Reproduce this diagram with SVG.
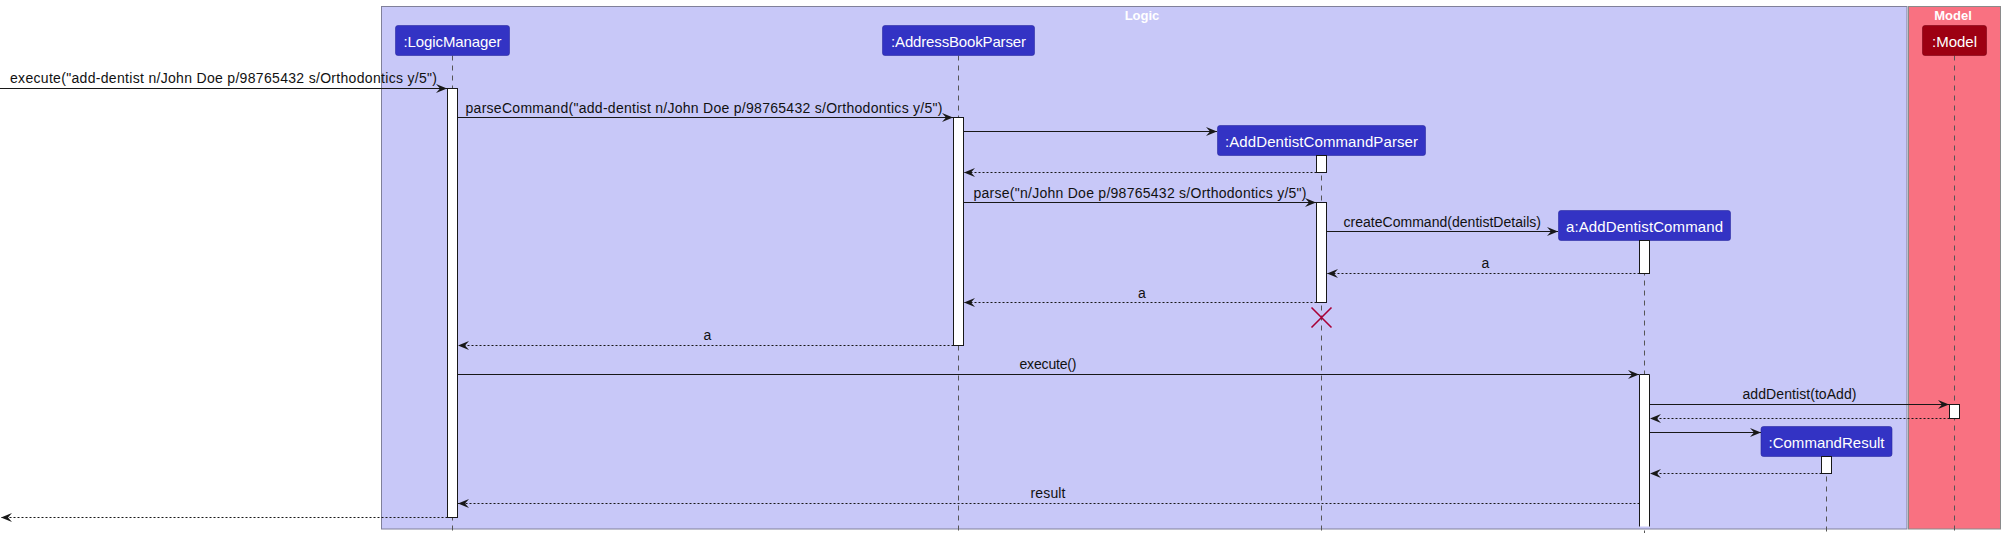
<svg xmlns="http://www.w3.org/2000/svg" width="2005" height="541" viewBox="0 0 2005 541">
<style>
.frame-logic{fill:#C8C8F8;stroke:#80809A;stroke-width:1}
.frame-model{fill:#F97181;stroke:#8A8A8A;stroke-width:1}
.ftitle{font-family:"Liberation Sans",Arial,sans-serif;font-size:13px;font-weight:bold;fill:#FFFFFF;text-anchor:middle}
.pb{fill:#3333C4;stroke:#2A2AA0;stroke-width:0.6}
.pm{fill:#9D0012;stroke:#7A0010;stroke-width:0.6}
.pt{font-family:"Liberation Sans",Arial,sans-serif;font-size:15px;fill:#FFFFFF;text-anchor:middle}
.life{stroke:#555555;stroke-width:1;stroke-dasharray:5,5;fill:none}
.act{fill:#FFFFFF;stroke:#181818;stroke-width:1}
.msg{stroke:#181818;stroke-width:1;fill:none;marker-end:url(#ah)}
.ret{stroke:#181818;stroke-width:1;stroke-dasharray:2,2;fill:none;marker-end:url(#ah)}
.lbl{font-family:"Liberation Sans",Arial,sans-serif;font-size:14px;fill:#111111}
.mid{text-anchor:middle}
.x{stroke:#A80036;stroke-width:1.6;fill:none}
</style>
<defs>
<marker id="ah" markerUnits="userSpaceOnUse" markerWidth="12" markerHeight="10" refX="11" refY="4.5" orient="auto" viewBox="0 0 12 10">
<path d="M0,0 L11,4.5 L0,9 L4,4.5 Z" fill="#181818"/>
</marker>
</defs>
<rect width="2005" height="541" fill="#FFFFFF"/>

<g id="box-logic">
<rect class="frame-logic" x="381.5" y="6.5" width="1525.5" height="522.5"/>
<text class="ftitle" x="1142" y="19.5">Logic</text>
</g>
<g id="box-model">
<rect class="frame-model" x="1908.5" y="6.5" width="92" height="522.5"/>
<text class="ftitle" x="1953" y="19.5">Model</text>
</g>

<g id="lifelines">
<line class="life" x1="452.5" y1="55.5" x2="452.5" y2="533"/>
<line class="life" x1="958.5" y1="55.5" x2="958.5" y2="533"/>
<line class="life" x1="1321.5" y1="155.5" x2="1321.5" y2="533"/>
<line class="life" x1="1644.5" y1="240.5" x2="1644.5" y2="533"/>
<line class="life" x1="1826.5" y1="456.5" x2="1826.5" y2="533"/>
<line class="life" x1="1954.5" y1="55.5" x2="1954.5" y2="533"/>
</g>

<g id="LogicManager">
<rect class="pb" x="395.5" y="25.5" width="114" height="30" rx="2.5"/>
<text class="pt" x="452.5" y="46.5" textLength="98">:LogicManager</text>
<rect class="act" x="447.5" y="88.5" width="10" height="429"/>
</g>
<g id="AddressBookParser">
<rect class="pb" x="882.5" y="25.5" width="152" height="30" rx="2.5"/>
<text class="pt" x="958.5" y="46.5" textLength="135">:AddressBookParser</text>
<rect class="act" x="953.5" y="117.5" width="10" height="228"/>
</g>
<g id="AddDentistCommandParser">
<rect class="pb" x="1217.5" y="125.5" width="208" height="30" rx="2.5"/>
<text class="pt" x="1321.5" y="146.5" textLength="193">:AddDentistCommandParser</text>
<rect class="act" x="1316.5" y="155.5" width="10" height="17"/>
<rect class="act" x="1316.5" y="202.5" width="10" height="100"/>
<path class="x" d="M1311.5,307.5 L1331.5,327.5 M1331.5,307.5 L1311.5,327.5"/>
</g>
<g id="AddDentistCommand">
<rect class="pb" x="1558.5" y="210.5" width="172" height="30" rx="2.5"/>
<text class="pt" x="1644.5" y="231.5" textLength="157">a:AddDentistCommand</text>
<rect class="act" x="1639.5" y="240.5" width="10" height="33"/>
<rect x="1639.5" y="374.5" width="10" height="152" fill="#FFFFFF"/>
<path d="M1639.5,526.5 V374.5 H1649.5 V526.5" fill="none" stroke="#181818" stroke-width="1"/>
</g>
<g id="CommandResult">
<rect class="pb" x="1761" y="426.5" width="131" height="30" rx="2.5"/>
<text class="pt" x="1826.5" y="447.5" textLength="116">:CommandResult</text>
<rect class="act" x="1821.5" y="456.5" width="10" height="17"/>
</g>
<g id="Model">
<rect class="pm" x="1922.5" y="25.5" width="64" height="30" rx="2.5"/>
<text class="pt" x="1954.5" y="46.5" textLength="45">:Model</text>
<rect class="act" x="1949.5" y="404.5" width="10" height="14"/>
</g>

<g id="connectors">
<path class="msg" d="M0,88.5 H447"/>
<path class="msg" d="M457.5,117.5 H953"/>
<path class="msg" d="M963.5,131.5 H1217"/>
<path class="ret" d="M1316.5,172.5 H964"/>
<path class="msg" d="M963.5,202.5 H1316"/>
<path class="msg" d="M1326.5,231.5 H1558"/>
<path class="ret" d="M1639.5,273.5 H1327"/>
<path class="ret" d="M1316.5,302.5 H964"/>
<path class="ret" d="M953.5,345.5 H458"/>
<path class="msg" d="M457.5,374.5 H1639"/>
<path class="msg" d="M1649.5,404.5 H1949"/>
<path class="ret" d="M1949.5,418.5 H1650"/>
<path class="msg" d="M1649.5,432.5 H1761"/>
<path class="ret" d="M1821.5,473.5 H1650"/>
<path class="ret" d="M1639.5,503.5 H458"/>
<path class="ret" d="M447.5,517.5 H1"/>
</g>

<g id="labels">
<text class="lbl" x="10" y="83" textLength="427">execute("add-dentist n/John Doe p/98765432 s/Orthodontics y/5")</text>
<text class="lbl" x="465.5" y="113" textLength="477">parseCommand("add-dentist n/John Doe p/98765432 s/Orthodontics y/5")</text>
<text class="lbl" x="973.5" y="197.5" textLength="333">parse("n/John Doe p/98765432 s/Orthodontics y/5")</text>
<text class="lbl" x="1343.5" y="227" textLength="197.5">createCommand(dentistDetails)</text>
<text class="lbl mid" x="1485.5" y="268">a</text>
<text class="lbl mid" x="1142" y="297.5">a</text>
<text class="lbl mid" x="707.5" y="340">a</text>
<text class="lbl mid" x="1048" y="369" textLength="57">execute()</text>
<text class="lbl mid" x="1799.5" y="399" textLength="114">addDentist(toAdd)</text>
<text class="lbl mid" x="1048" y="497.5" textLength="35">result</text>
</g>
</svg>
